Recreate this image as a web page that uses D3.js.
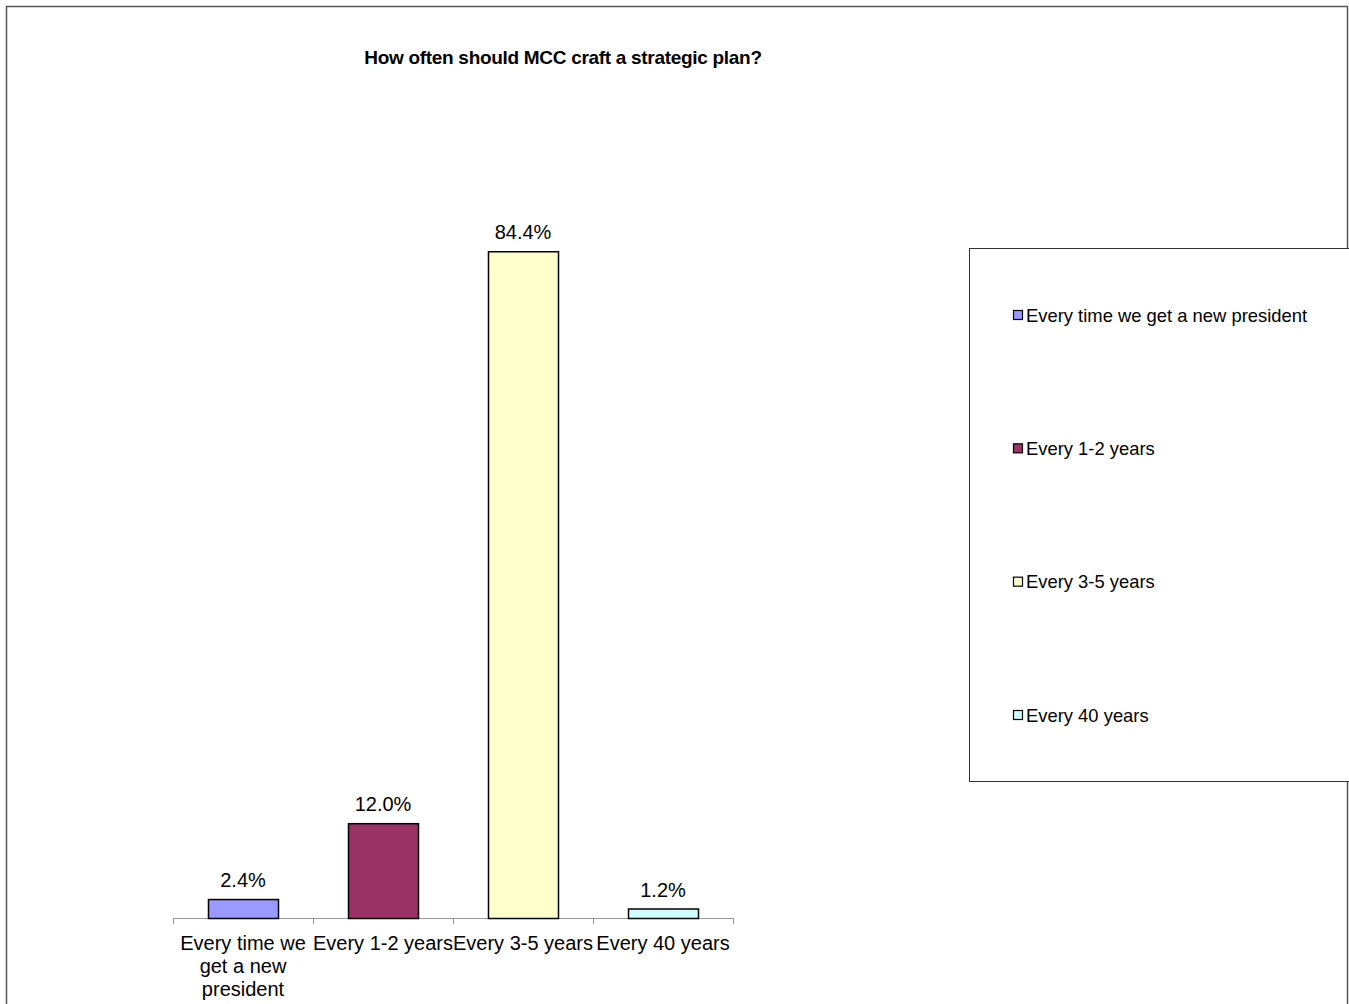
<!DOCTYPE html>
<html>
<head>
<meta charset="utf-8">
<script src="https://cdn.jsdelivr.net/npm/d3@7"></script>
<style>
  body { margin: 0; background: #fff; }
  svg { display: block; font-family: "Liberation Sans", Arial, sans-serif; }
</style>
</head>
<body>
<script>
// chart data
const categories = ['Every time we get a new president', 'Every 1-2 years', 'Every 3-5 years', 'Every 40 years'];
const values = [2.4, 12.0, 84.4, 1.2];
const colors = ['#9999FF', '#993366', '#FFFFCC', '#CCFFFF'];
const valueLabels = ['2.4%', '12.0%', '84.4%', '1.2%'];
const title = 'How often should MCC craft a strategic plan?';

const width = 1349, height = 1004;

const svg = d3.select('body')
  .append('svg')
  .attr('width', width)
  .attr('height', height);

// outer frame (bottom runs off the page)
svg.append('rect')
  .attr('x', 6.5)
  .attr('y', 6.5)
  .attr('width', 1341)
  .attr('height', 1010)
  .attr('fill', '#fff')
  .attr('stroke', '#555')
  .attr('stroke-width', 1.5);

// title
svg.append('text')
  .attr('x', 563)
  .attr('y', 64)
  .attr('text-anchor', 'middle')
  .style('font-size', '19px')
  .style('font-weight', 'bold')
  .style('letter-spacing', '-0.3px')
  .text(title);

// scales
const x = d3.scaleBand()
  .domain(categories)
  .range([173, 733])
  .paddingInner(0.5)
  .paddingOuter(0.25);

const xTicks = d3.scalePoint()
  .domain(d3.range(categories.length + 1))
  .range([173, 733]);

const y = d3.scaleLinear()
  .domain([0, 100])
  .range([918, 128]);

// baseline axis with category ticks
const axis = svg.append('g');
axis.append('line')
  .attr('x1', 173).attr('x2', 733)
  .attr('y1', y(0) + 0.5).attr('y2', y(0) + 0.5)
  .attr('stroke', '#999');
axis.selectAll('.tick')
  .data(xTicks.domain())
  .enter()
  .append('line')
  .attr('x1', d => xTicks(d) + 0.5)
  .attr('x2', d => xTicks(d) + 0.5)
  .attr('y1', y(0))
  .attr('y2', y(0) + 6)
  .attr('stroke', '#999');

// bars
svg.selectAll('.bar')
  .data(values)
  .enter()
  .append('rect')
  .attr('class', 'bar')
  .attr('x', (d, i) => x(categories[i]) + 0.5)
  .attr('y', d => y(d) + 0.5)
  .attr('width', x.bandwidth())
  .attr('height', d => y(0) - y(d))
  .attr('fill', (d, i) => colors[i])
  .attr('stroke', '#000')
  .attr('stroke-width', 1.5);

// value labels
svg.selectAll('.val')
  .data(values)
  .enter()
  .append('text')
  .attr('x', (d, i) => x(categories[i]) + x.bandwidth() / 2)
  .attr('y', d => y(d) - 12)
  .attr('text-anchor', 'middle')
  .style('font-size', '20px')
  .text((d, i) => valueLabels[i]);

// category labels, wrapped to about the category width
function wrapLines(text, maxW, size) {
  const probe = svg.append('text').style('font-size', size);
  const words = text.split(' ');
  const lines = [];
  let cur = '';
  words.forEach(w => {
    const test = cur ? cur + ' ' + w : w;
    probe.text(test);
    if (probe.node().getComputedTextLength() > maxW && cur) {
      lines.push(cur);
      cur = w;
    } else {
      cur = test;
    }
  });
  lines.push(cur);
  probe.remove();
  return lines;
}

categories.forEach((c, i) => {
  const cx = x(c) + x.bandwidth() / 2;
  const lines = wrapLines(c, 150, '20px');
  const t = svg.append('text')
    .attr('text-anchor', 'middle')
    .style('font-size', '20px');
  lines.forEach((l, j) => {
    t.append('tspan')
      .attr('x', cx)
      .attr('y', 950 + j * 23)
      .text(l);
  });
});

// legend
const legend = svg.append('g');
legend.append('rect')
  .attr('x', 969.5)
  .attr('y', 248.5)
  .attr('width', 400)
  .attr('height', 533)
  .attr('fill', '#fff')
  .attr('stroke', '#333')
  .attr('stroke-width', 1);

const legendY = d3.scalePoint()
  .domain(categories)
  .range([315, 715]);

categories.forEach((c, i) => {
  const ly = legendY(c);
  legend.append('rect')
    .attr('x', 1013.5)
    .attr('y', ly - 4.5)
    .attr('width', 9)
    .attr('height', 9)
    .attr('fill', colors[i])
    .attr('stroke', '#000')
    .attr('stroke-width', 1.2);
  legend.append('text')
    .attr('x', 1026)
    .attr('y', ly + 6.5)
    .style('font-size', '18.4px')
    .text(c);
});
</script>
</body>
</html>
